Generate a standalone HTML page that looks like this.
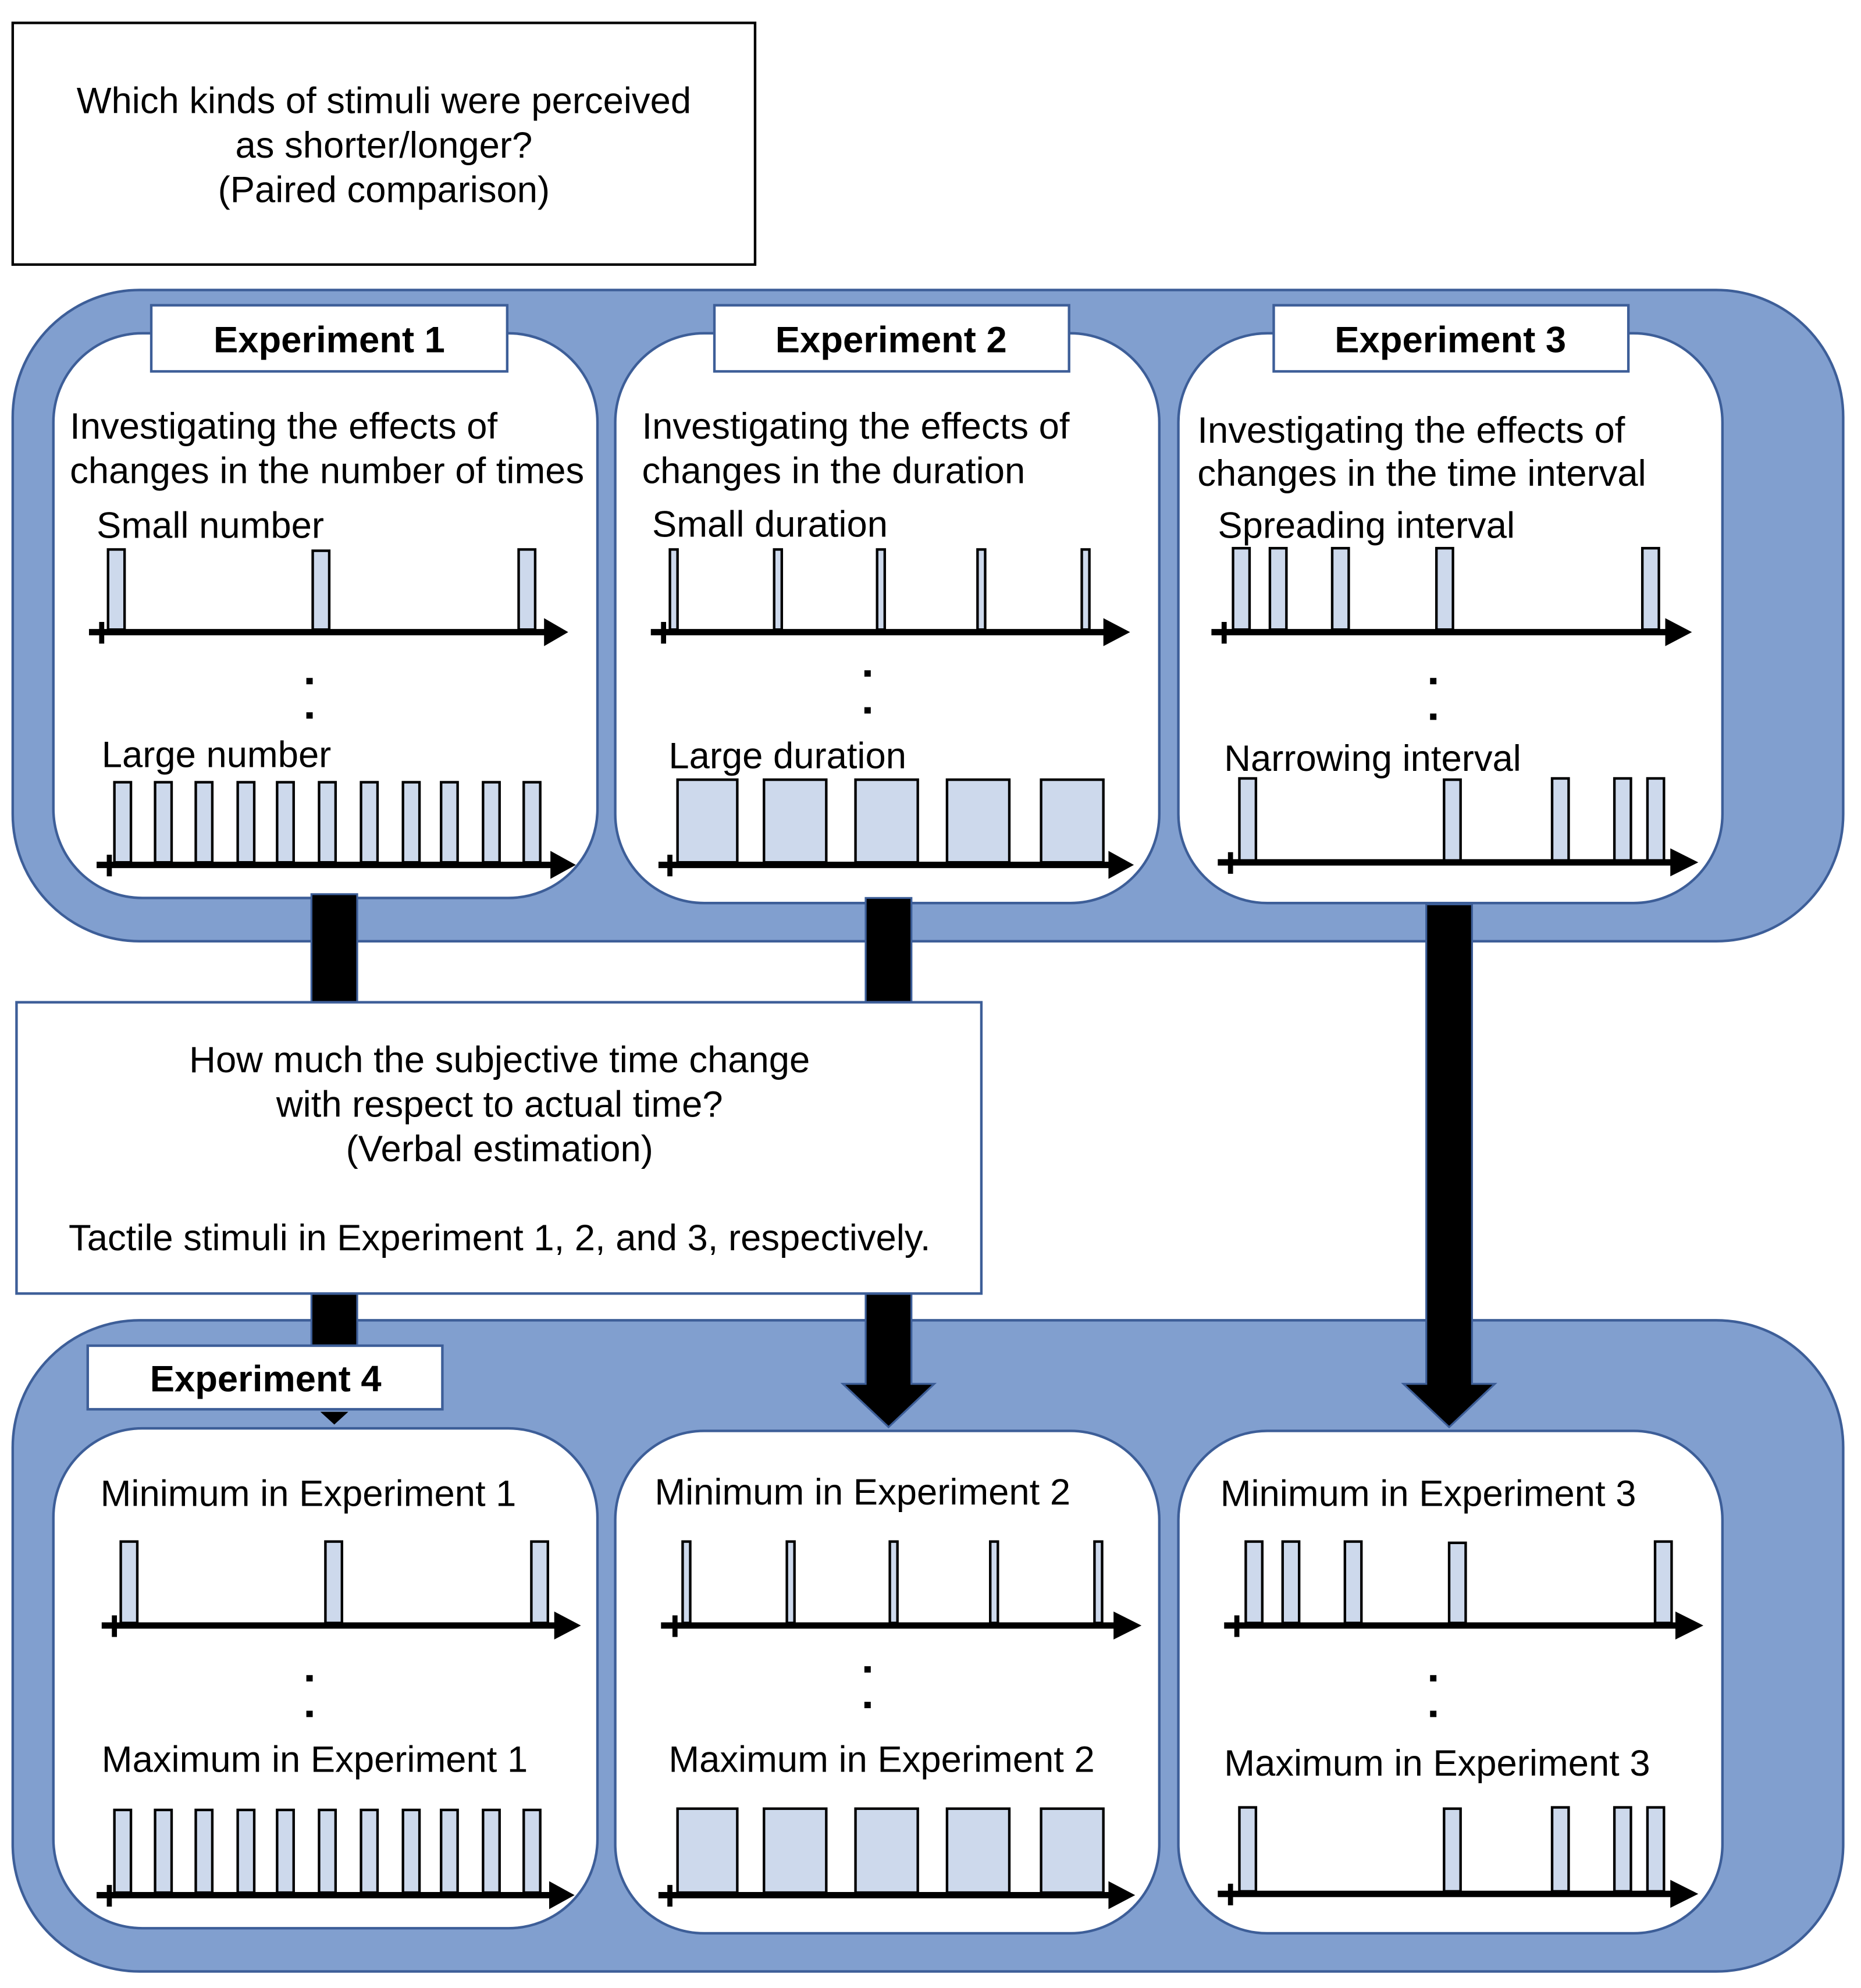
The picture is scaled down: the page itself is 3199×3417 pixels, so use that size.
<!DOCTYPE html>
<html><head><meta charset="utf-8"><style>html,body{margin:0;padding:0;background:#fff}svg{display:block}</style></head>
<body>
<svg width="3199" height="3417" viewBox="0 0 1464 1563" preserveAspectRatio="none" xmlns="http://www.w3.org/2000/svg" font-family="Liberation Sans, Arial, sans-serif">
<defs>
<style>
.t{font-size:29px;fill:#000}
.b{font-size:29px;font-weight:bold;fill:#000}
.bar{fill:#cdd9ec;stroke:#000;stroke-width:2}
.ax{stroke:#000;stroke-width:5}
.pn{fill:#fff;stroke:#3d5e98;stroke-width:2}
.ar{fill:#000;stroke:#3d5e98;stroke-width:1.5}
</style>
</defs>
<rect x="10" y="18" width="584" height="190" fill="#fff" stroke="#000" stroke-width="2"/>
<text class="t" x="302" y="89" text-anchor="middle">Which kinds of stimuli were perceived</text>
<text class="t" x="302" y="124" text-anchor="middle">as shorter/longer?</text>
<text class="t" x="302" y="159" text-anchor="middle">(Paired comparison)</text>

<rect x="10" y="228" width="1440" height="512" rx="100" fill="#819fcf" stroke="#3d5e98" stroke-width="2"/>
<rect class="pn" x="42" y="262" width="428" height="444" rx="70"/>
<rect class="pn" x="484" y="262" width="428" height="448" rx="70"/>
<rect class="pn" x="927" y="262" width="428" height="448" rx="70"/>
<rect x="119" y="240" width="280" height="52" fill="#fff" stroke="#3d5e98" stroke-width="2"/>
<rect x="562" y="240" width="279" height="52" fill="#fff" stroke="#3d5e98" stroke-width="2"/>
<rect x="1002" y="240" width="279" height="52" fill="#fff" stroke="#3d5e98" stroke-width="2"/>
<text class="b" x="259" y="277" text-anchor="middle">Experiment 1</text>
<text class="b" x="701" y="277" text-anchor="middle">Experiment 2</text>
<text class="b" x="1141" y="277" text-anchor="middle">Experiment 3</text>

<text class="t" x="55" y="345">Investigating the effects of</text>
<text class="t" x="55" y="380">changes in the number of times</text>
<text class="t" x="76" y="423">Small number</text>
<rect class="bar" x="85" y="432" width="13" height="63"/><rect class="bar" x="246" y="433" width="13" height="62"/><rect class="bar" x="408" y="432" width="13" height="63"/>
<line class="ax" x1="70" y1="497" x2="432" y2="497"/><polygon points="428,486 447,497 428,508"/><line x1="80" y1="489" x2="80" y2="506" stroke="#000" stroke-width="4"/>
<rect x="241" y="533" width="5" height="5"/><rect x="241" y="560" width="5" height="5"/>
<text class="t" x="80" y="603">Large number</text>
<rect class="bar" x="90" y="615" width="13" height="63"/><rect class="bar" x="122" y="615" width="13" height="63"/><rect class="bar" x="154" y="615" width="13" height="63"/><rect class="bar" x="187" y="615" width="13" height="63"/><rect class="bar" x="218" y="615" width="13" height="63"/><rect class="bar" x="251" y="615" width="13" height="63"/><rect class="bar" x="284" y="615" width="13" height="63"/><rect class="bar" x="317" y="615" width="13" height="63"/><rect class="bar" x="347" y="615" width="13" height="63"/><rect class="bar" x="380" y="615" width="13" height="63"/><rect class="bar" x="412" y="615" width="13" height="63"/>
<line class="ax" x1="76" y1="680" x2="437" y2="680"/><polygon points="433,669 453,680 433,691"/><line x1="86" y1="672" x2="86" y2="689" stroke="#000" stroke-width="4"/>

<text class="t" x="505" y="345">Investigating the effects of</text>
<text class="t" x="505" y="380">changes in the duration</text>
<text class="t" x="513" y="422">Small duration</text>
<rect class="bar" x="527" y="432" width="6" height="63"/><rect class="bar" x="609" y="432" width="6" height="63"/><rect class="bar" x="690" y="432" width="6" height="63"/><rect class="bar" x="769" y="432" width="6" height="63"/><rect class="bar" x="851" y="432" width="6" height="63"/>
<line class="ax" x1="512" y1="497" x2="872" y2="497"/><polygon points="868,486 889,497 868,508"/><line x1="522" y1="489" x2="522" y2="506" stroke="#000" stroke-width="4"/>
<rect x="680" y="527" width="5" height="5"/><rect x="680" y="556" width="5" height="5"/>
<text class="t" x="526" y="604">Large duration</text>
<rect class="bar" x="533" y="613" width="47" height="65"/><rect class="bar" x="601" y="613" width="49" height="65"/><rect class="bar" x="673" y="613" width="49" height="65"/><rect class="bar" x="745" y="613" width="49" height="65"/><rect class="bar" x="819" y="613" width="49" height="65"/>
<line class="ax" x1="518" y1="680" x2="876" y2="680"/><polygon points="872,669 892,680 872,691"/><line x1="527" y1="672" x2="527" y2="689" stroke="#000" stroke-width="4"/>

<text class="t" x="942" y="348">Investigating the effects of</text>
<text class="t" x="942" y="382">changes in the time interval</text>
<text class="t" x="958" y="423">Spreading interval</text>
<rect class="bar" x="970" y="431" width="13" height="64"/><rect class="bar" x="999" y="431" width="13" height="64"/><rect class="bar" x="1048" y="431" width="13" height="64"/><rect class="bar" x="1130" y="431" width="13" height="64"/><rect class="bar" x="1292" y="431" width="13" height="64"/>
<line class="ax" x1="953" y1="497" x2="1314" y2="497"/><polygon points="1310,486 1331,497 1310,508"/><line x1="963" y1="489" x2="963" y2="506" stroke="#000" stroke-width="4"/>
<rect x="1125" y="533" width="5" height="5"/><rect x="1125" y="561" width="5" height="5"/>
<text class="t" x="963" y="606">Narrowing interval</text>
<rect class="bar" x="975" y="612" width="13" height="66"/><rect class="bar" x="1136" y="613" width="13" height="65"/><rect class="bar" x="1221" y="612" width="13" height="66"/><rect class="bar" x="1270" y="612" width="13" height="66"/><rect class="bar" x="1296" y="612" width="13" height="66"/>
<line class="ax" x1="958" y1="678" x2="1318" y2="678"/><polygon points="1314,667 1336,678 1314,689"/><line x1="968" y1="670" x2="968" y2="687" stroke="#000" stroke-width="4"/>

<rect x="10" y="1038" width="1440" height="512" rx="100" fill="#819fcf" stroke="#3d5e98" stroke-width="2"/>

<rect class="ar" x="245" y="703" width="36" height="90"/>
<rect class="ar" x="681" y="706" width="36" height="87"/>
<polygon class="ar" points="1122,711 1158,711 1158,1088 1176,1088 1140,1122 1104,1088 1122,1088"/>
<polygon class="ar" points="681,1010 717,1010 717,1088 735,1088 699,1122 663,1088 681,1088"/>
<rect class="ar" x="245" y="1010" width="36" height="52"/>

<rect x="13" y="788" width="759" height="229" fill="#fff" stroke="#3d5e98" stroke-width="2"/>
<text class="t" x="393" y="843" text-anchor="middle">How much the subjective time change</text>
<text class="t" x="393" y="878" text-anchor="middle">with respect to actual time?</text>
<text class="t" x="393" y="913" text-anchor="middle">(Verbal estimation)</text>
<text class="t" x="393" y="983" text-anchor="middle">Tactile stimuli in Experiment 1, 2, and 3, respectively.</text>

<rect class="pn" x="42" y="1123" width="428" height="393" rx="70"/>
<rect class="pn" x="484" y="1125" width="428" height="395" rx="70"/>
<rect class="pn" x="927" y="1125" width="428" height="395" rx="70"/>
<rect x="69" y="1058" width="279" height="50" fill="#fff" stroke="#3d5e98" stroke-width="2"/>
<polygon points="252,1110 274,1110 263,1120" fill="#000"/>
<text class="b" x="209" y="1094" text-anchor="middle">Experiment 4</text>

<text class="t" x="79" y="1184">Minimum in Experiment 1</text>
<rect class="bar" x="95" y="1212" width="13" height="64"/><rect class="bar" x="256" y="1212" width="13" height="64"/><rect class="bar" x="418" y="1212" width="13" height="64"/>
<line class="ax" x1="80" y1="1278" x2="440" y2="1278"/><polygon points="436,1267 457,1278 436,1289"/><line x1="90" y1="1270" x2="90" y2="1287" stroke="#000" stroke-width="4"/>
<rect x="241" y="1317" width="5" height="5"/><rect x="241" y="1345" width="5" height="5"/>
<text class="t" x="80" y="1393">Maximum in Experiment 1</text>
<rect class="bar" x="90" y="1423" width="13" height="65"/><rect class="bar" x="122" y="1423" width="13" height="65"/><rect class="bar" x="154" y="1423" width="13" height="65"/><rect class="bar" x="187" y="1423" width="13" height="65"/><rect class="bar" x="218" y="1423" width="13" height="65"/><rect class="bar" x="251" y="1423" width="13" height="65"/><rect class="bar" x="284" y="1423" width="13" height="65"/><rect class="bar" x="317" y="1423" width="13" height="65"/><rect class="bar" x="347" y="1423" width="13" height="65"/><rect class="bar" x="380" y="1423" width="13" height="65"/><rect class="bar" x="412" y="1423" width="13" height="65"/>
<line class="ax" x1="76" y1="1490" x2="436" y2="1490"/><polygon points="432,1479 452,1490 432,1501"/><line x1="86" y1="1482" x2="86" y2="1499" stroke="#000" stroke-width="4"/>

<text class="t" x="515" y="1183">Minimum in Experiment 2</text>
<rect class="bar" x="537" y="1212" width="6" height="64"/><rect class="bar" x="619" y="1212" width="6" height="64"/><rect class="bar" x="700" y="1212" width="6" height="64"/><rect class="bar" x="779" y="1212" width="6" height="64"/><rect class="bar" x="861" y="1212" width="6" height="64"/>
<line class="ax" x1="520" y1="1278" x2="880" y2="1278"/><polygon points="876,1267 898,1278 876,1289"/><line x1="531" y1="1270" x2="531" y2="1287" stroke="#000" stroke-width="4"/>
<rect x="680" y="1310" width="5" height="5"/><rect x="680" y="1338" width="5" height="5"/>
<text class="t" x="526" y="1393">Maximum in Experiment 2</text>
<rect class="bar" x="533" y="1422" width="47" height="66"/><rect class="bar" x="601" y="1422" width="49" height="66"/><rect class="bar" x="673" y="1422" width="49" height="66"/><rect class="bar" x="745" y="1422" width="49" height="66"/><rect class="bar" x="819" y="1422" width="49" height="66"/>
<line class="ax" x1="518" y1="1490" x2="876" y2="1490"/><polygon points="872,1479 893,1490 872,1501"/><line x1="527" y1="1482" x2="527" y2="1499" stroke="#000" stroke-width="4"/>

<text class="t" x="960" y="1184">Minimum in Experiment 3</text>
<rect class="bar" x="980" y="1212" width="13" height="64"/><rect class="bar" x="1009" y="1212" width="13" height="64"/><rect class="bar" x="1058" y="1212" width="13" height="64"/><rect class="bar" x="1140" y="1213" width="13" height="63"/><rect class="bar" x="1302" y="1212" width="13" height="64"/>
<line class="ax" x1="963" y1="1278" x2="1322" y2="1278"/><polygon points="1318,1267 1340,1278 1318,1289"/><line x1="973" y1="1270" x2="973" y2="1287" stroke="#000" stroke-width="4"/>
<rect x="1125" y="1317" width="5" height="5"/><rect x="1125" y="1345" width="5" height="5"/>
<text class="t" x="963" y="1396">Maximum in Experiment 3</text>
<rect class="bar" x="975" y="1421" width="13" height="66"/><rect class="bar" x="1136" y="1422" width="13" height="65"/><rect class="bar" x="1221" y="1421" width="13" height="66"/><rect class="bar" x="1270" y="1421" width="13" height="66"/><rect class="bar" x="1296" y="1421" width="13" height="66"/>
<line class="ax" x1="958" y1="1489" x2="1318" y2="1489"/><polygon points="1314,1478 1336,1489 1314,1500"/><line x1="968" y1="1481" x2="968" y2="1498" stroke="#000" stroke-width="4"/>
</svg>
</body></html>
